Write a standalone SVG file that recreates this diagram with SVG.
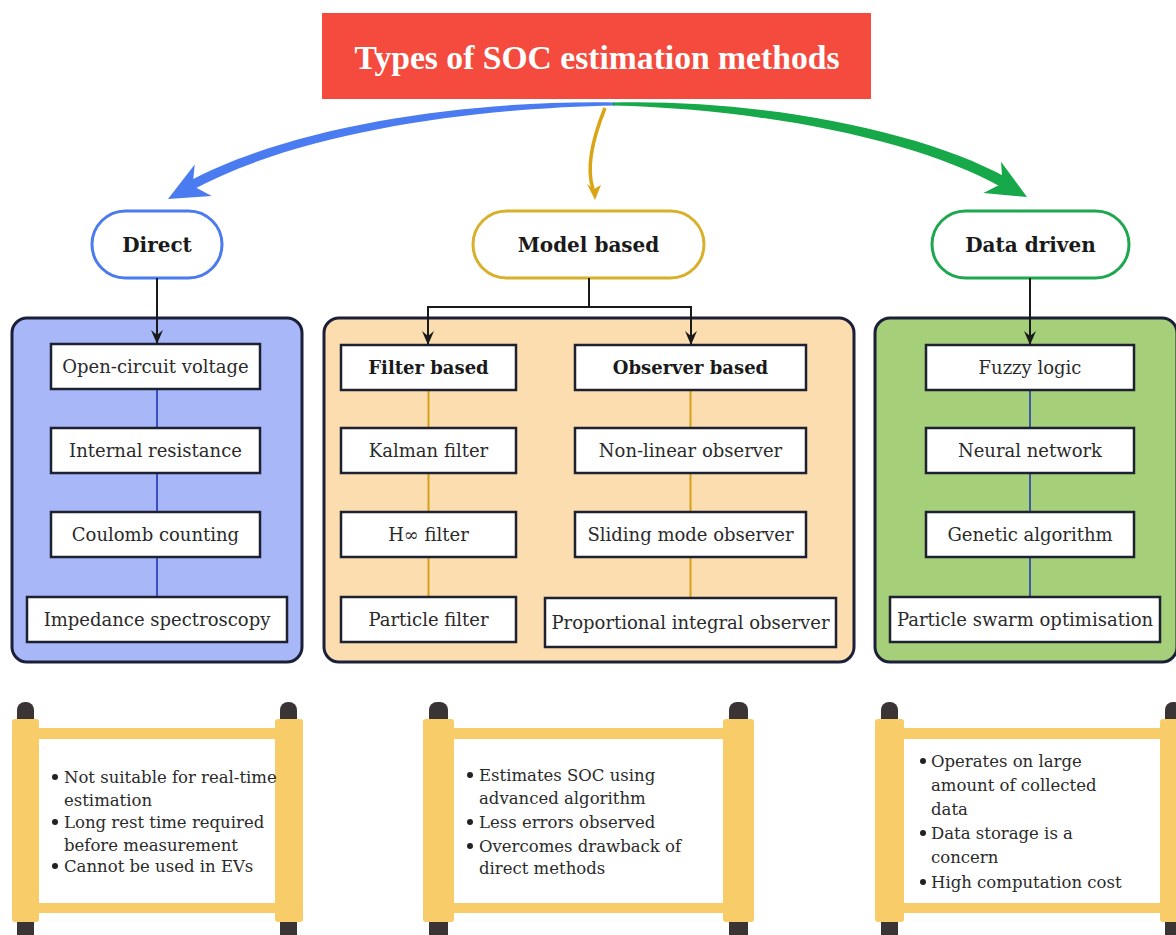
<svg xmlns="http://www.w3.org/2000/svg" width="1176" height="935" viewBox="0 0 1176 935">
  <style>
    .title { font-family: "Liberation Serif", serif; font-weight: bold; font-size: 34px; fill: #ffffff; }
    .pill-label { font-family: "DejaVu Serif", "Liberation Serif", serif; font-weight: bold; font-size: 20px; fill: #1a1a1a; }
    .box { fill: #ffffff; stroke: #1e2230; stroke-width: 2.5; }
    .box-label { font-family: "DejaVu Serif", "Liberation Serif", serif; font-size: 18px; fill: #2a2a2a; }
    .box-label-b { font-family: "DejaVu Serif", "Liberation Serif", serif; font-size: 18px; font-weight: bold; fill: #1a1a1a; }
    .panel { stroke: #1b1f3a; stroke-width: 3; }
    .note { font-family: "DejaVu Serif", "Liberation Serif", serif; font-size: 16.5px; fill: #2a2a2a; }
    .roller { fill: #f8cc68; }
    .knob { fill: #3a3434; }
    .paper { fill: #ffffff; }
    .black-link { fill: none; stroke: #1a1a1a; stroke-width: 2; }
  </style>
  <defs>
    <!-- barbed arrowhead for the black links -->
    <marker id="barb" viewBox="0 0 14 12" refX="13" refY="6" markerWidth="14" markerHeight="12" markerUnits="userSpaceOnUse" orient="auto">
      <path d="M0,0 L14,6 L0,12 L5,6 Z" fill="#1a1a1a"/>
    </marker>
  </defs>

  <rect width="1176" height="935" fill="#ffffff"/>

  <!-- title -->
  <g id="title">
    <rect x="322" y="13" width="549" height="86" fill="#f44b3e"/>
    <text class="title" x="597" y="69" text-anchor="middle" textLength="485" lengthAdjust="spacingAndGlyphs">Types of SOC estimation methods</text>
  </g>

  <!-- Direct -->
  <g id="direct">
    <rect x="92" y="211" width="130" height="67" rx="33.5" fill="#ffffff" stroke="#4b7bec" stroke-width="3"/>
    <text class="pill-label" x="157" y="252" text-anchor="middle">Direct</text>
  </g>
  <g id="direct-panel">
    <rect class="panel" x="12" y="318" width="290" height="344" rx="15" fill="#a8b7f8"/>
    <g stroke="#3b4fc4" stroke-width="2">
      <line x1="157" y1="390" x2="157" y2="428"/>
      <line x1="157" y1="473" x2="157" y2="512"/>
      <line x1="157" y1="557" x2="157" y2="597"/>
    </g>
    <rect class="box" x="51" y="344" width="209" height="45"/>
    <text class="box-label" x="155.5" y="373" text-anchor="middle">Open-circuit voltage</text>
    <rect class="box" x="51" y="428" width="209" height="45"/>
    <text class="box-label" x="155.5" y="457" text-anchor="middle">Internal resistance</text>
    <rect class="box" x="51" y="512" width="209" height="45"/>
    <text class="box-label" x="155.5" y="541" text-anchor="middle">Coulomb counting</text>
    <rect class="box" x="27" y="597" width="260" height="45"/>
    <text class="box-label" x="157" y="626" text-anchor="middle">Impedance spectroscopy</text>
  </g>

  <!-- Model based -->
  <g id="model">
    <rect x="473" y="211" width="231" height="67" rx="33.5" fill="#ffffff" stroke="#d8b02a" stroke-width="3"/>
    <text class="pill-label" x="588.5" y="252" text-anchor="middle">Model based</text>
  </g>
  <g id="model-panel">
    <rect class="panel" x="324" y="318" width="530" height="344" rx="15" fill="#fcddaf"/>
    <g stroke="#d4a018" stroke-width="2">
      <line x1="428.5" y1="390" x2="428.5" y2="428"/>
      <line x1="428.5" y1="473" x2="428.5" y2="512"/>
      <line x1="428.5" y1="557" x2="428.5" y2="597"/>
      <line x1="690.5" y1="390" x2="690.5" y2="428"/>
      <line x1="690.5" y1="473" x2="690.5" y2="512"/>
      <line x1="690.5" y1="557" x2="690.5" y2="598"/>
    </g>
    <rect class="box" x="341" y="345" width="175" height="45"/>
    <text class="box-label-b" x="428.5" y="374" text-anchor="middle">Filter based</text>
    <rect class="box" x="341" y="428" width="175" height="45"/>
    <text class="box-label" x="428.5" y="457" text-anchor="middle">Kalman filter</text>
    <rect class="box" x="341" y="512" width="175" height="45"/>
    <text class="box-label" x="428.5" y="541" text-anchor="middle">H∞ filter</text>
    <rect class="box" x="341" y="597" width="175" height="45"/>
    <text class="box-label" x="428.5" y="626" text-anchor="middle">Particle filter</text>

    <rect class="box" x="575" y="345" width="231" height="45"/>
    <text class="box-label-b" x="690.5" y="374" text-anchor="middle">Observer based</text>
    <rect class="box" x="575" y="428" width="231" height="45"/>
    <text class="box-label" x="690.5" y="457" text-anchor="middle">Non-linear observer</text>
    <rect class="box" x="575" y="512" width="231" height="45"/>
    <text class="box-label" x="690.5" y="541" text-anchor="middle">Sliding mode observer</text>
    <rect class="box" x="545" y="598" width="291" height="49"/>
    <text class="box-label" x="690.5" y="629" text-anchor="middle">Proportional integral observer</text>
  </g>

  <!-- Data driven -->
  <g id="data">
    <rect x="932" y="211" width="197" height="67" rx="33.5" fill="#ffffff" stroke="#1fa74f" stroke-width="3"/>
    <text class="pill-label" x="1030.5" y="252" text-anchor="middle">Data driven</text>
  </g>
  <g id="data-panel">
    <rect class="panel" x="875" y="318" width="302" height="344" rx="15" fill="#a6cf7a"/>
    <g stroke="#3c5aa8" stroke-width="2">
      <line x1="1030" y1="390" x2="1030" y2="428"/>
      <line x1="1030" y1="473" x2="1030" y2="512"/>
      <line x1="1030" y1="557" x2="1030" y2="597"/>
    </g>
    <rect class="box" x="926" y="345" width="208" height="45"/>
    <text class="box-label" x="1030" y="374" text-anchor="middle">Fuzzy logic</text>
    <rect class="box" x="926" y="428" width="208" height="45"/>
    <text class="box-label" x="1030" y="457" text-anchor="middle">Neural network</text>
    <rect class="box" x="926" y="512" width="208" height="45"/>
    <text class="box-label" x="1030" y="541" text-anchor="middle">Genetic algorithm</text>
    <rect class="box" x="890" y="597" width="270" height="45"/>
    <text class="box-label" x="1025" y="626" text-anchor="middle">Particle swarm optimisation</text>
  </g>

  <!-- connectors -->
  <g id="connectors">
    <!-- blue: to Direct (tapered shaft + barbed head) -->
    <path d="M615,102.5 C480,100 297.8,122 185.8,183 L190.2,191 C302.2,130 480,108 615,105.5 Z" fill="#4b7bf0"/>
    <polygon points="168,199 194.7,164.4 192.6,185.8 211.7,196" fill="#4b7bf0"/>
    <!-- gold: to Model based -->
    <path d="M605,108 C592,140 586,168 593,189" fill="none" stroke="#d9a514" stroke-width="3.5"/>
    <polygon points="595,200 587,184 594,189 601,185" fill="#d9a514"/>
    <!-- green: to Data driven -->
    <path d="M613,102.5 C760,99 922.4,130.6 1007.7,178.2 L1002.3,187.8 C917.6,139.4 760,109 613,105.5 Z" fill="#17a84a"/>
    <polygon points="1027,197 1001,161.7 1002.6,183.3 983.4,193.1" fill="#17a84a"/>

    <!-- pill to panel links -->
    <line class="black-link" x1="157" y1="278" x2="157" y2="343" marker-end="url(#barb)"/>
    <polyline class="black-link" points="589,278 589,307"/>
    <polyline class="black-link" points="428,307 691,307"/>
    <line class="black-link" x1="428" y1="306" x2="428" y2="344" marker-end="url(#barb)"/>
    <line class="black-link" x1="691" y1="306" x2="691" y2="344" marker-end="url(#barb)"/>
    <line class="black-link" x1="1030" y1="278" x2="1030" y2="344" marker-end="url(#barb)"/>
  </g>

  <!-- notes on scrolls -->
  <g id="note-direct">
    <rect class="knob" x="17" y="702" width="17" height="30" rx="8"/>
    <rect class="knob" x="280" y="702" width="17" height="30" rx="8"/>
    <rect class="knob" x="17" y="912" width="17" height="30" rx="4"/>
    <rect class="knob" x="280" y="912" width="17" height="30" rx="4"/>
    <rect class="roller" x="39" y="728" width="236" height="185"/>
    <rect class="paper" x="39" y="739" width="236" height="164"/>
    <rect class="roller" x="12" y="719" width="27" height="203" rx="3"/>
    <rect class="roller" x="275" y="719" width="28" height="203" rx="3"/>
    <g fill="#222">
      <circle cx="55" cy="777" r="3"/>
      <circle cx="55" cy="822" r="3"/>
      <circle cx="55" cy="866" r="3"/>
    </g>
    <text class="note" x="64" y="783">Not suitable for real-time</text>
    <text class="note" x="64" y="806">estimation</text>
    <text class="note" x="64" y="828">Long rest time required</text>
    <text class="note" x="64" y="851">before measurement</text>
    <text class="note" x="64" y="872">Cannot be used in EVs</text>
  </g>

  <g id="note-model">
    <rect class="knob" x="429" y="702" width="19" height="30" rx="8"/>
    <rect class="knob" x="729" y="702" width="19" height="30" rx="8"/>
    <rect class="knob" x="429" y="912" width="19" height="30" rx="4"/>
    <rect class="knob" x="729" y="912" width="19" height="30" rx="4"/>
    <rect class="roller" x="454" y="728" width="269" height="185"/>
    <rect class="paper" x="454" y="739" width="269" height="164"/>
    <rect class="roller" x="423" y="719" width="31" height="203" rx="3"/>
    <rect class="roller" x="723" y="719" width="31" height="203" rx="3"/>
    <g fill="#222">
      <circle cx="470" cy="775" r="3"/>
      <circle cx="470" cy="822" r="3"/>
      <circle cx="470" cy="846" r="3"/>
    </g>
    <text class="note" x="479" y="781">Estimates SOC using</text>
    <text class="note" x="479" y="804">advanced algorithm</text>
    <text class="note" x="479" y="828">Less errors observed</text>
    <text class="note" x="479" y="852">Overcomes drawback of</text>
    <text class="note" x="479" y="874">direct methods</text>
  </g>

  <g id="note-data">
    <rect class="knob" x="881" y="702" width="17" height="30" rx="8"/>
    <rect class="knob" x="1165" y="702" width="17" height="30" rx="8"/>
    <rect class="knob" x="881" y="912" width="17" height="30" rx="4"/>
    <rect class="knob" x="1165" y="912" width="17" height="30" rx="4"/>
    <rect class="roller" x="904" y="728" width="256" height="185"/>
    <rect class="paper" x="904" y="739" width="256" height="164"/>
    <rect class="roller" x="875" y="719" width="29" height="203" rx="3"/>
    <rect class="roller" x="1160" y="719" width="29" height="203" rx="3"/>
    <g fill="#222">
      <circle cx="923" cy="761" r="3"/>
      <circle cx="923" cy="833" r="3"/>
      <circle cx="923" cy="882" r="3"/>
    </g>
    <text class="note" x="931" y="767">Operates on large</text>
    <text class="note" x="931" y="791">amount of collected</text>
    <text class="note" x="931" y="815">data</text>
    <text class="note" x="931" y="839">Data storage is a</text>
    <text class="note" x="931" y="863">concern</text>
    <text class="note" x="931" y="888">High computation cost</text>
  </g>
</svg>
